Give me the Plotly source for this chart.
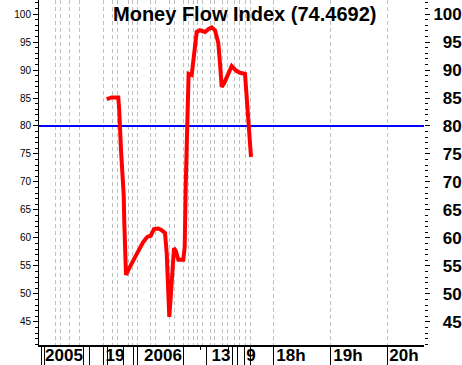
import plotly.graph_objects as go

# ---- data (x = position along the time axis, y = MFI value) ----
mfi_x = [106.7, 111.7, 118.3, 119.3, 121.0, 122.3, 123.7, 124.3, 125.3, 126.0,
         130.0, 136.7, 143.3, 147.3, 150.7, 154.0, 158.3, 161.7, 165.0, 166.7,
         167.7, 169.3, 171.0, 172.7, 174.0, 176.0, 178.3, 183.3, 184.7, 185.7,
         186.7, 187.3, 188.0, 188.6, 191.7, 193.3, 196.7, 200.0, 205.0, 208.3,
         211.7, 215.0, 218.3, 220.0, 221.7, 224.0, 227.3, 231.7, 236.0, 240.0,
         245.0, 246.7, 248.3, 250.0, 251.0]
mfi_y = [84.8, 85.1, 85.1, 82.6, 75.7, 72.1, 67.7, 62.7, 59.1, 53.4,
         54.9, 57.3, 59.3, 60.2, 60.4, 61.6, 61.7, 61.4, 60.9, 57.3,
         52.5, 45.9, 50.2, 54.9, 58.2, 57.6, 56.1, 56.1, 58.4, 69.2,
         76.3, 82.9, 88.2, 89.3, 89.1, 91.8, 96.8, 97.1, 96.8, 97.3,
         97.6, 97.1, 94.8, 91.2, 87.0, 87.6, 89.1, 90.7, 89.9, 89.5,
         89.3, 84.6, 80.5, 76.3, 74.4692]

threshold = 80
last_value = 74.4692

grid_x = [55.3, 60.3, 69.3, 79.3, 103.3, 112.3, 117.3, 128.3, 132.8, 137.3,
          150.5, 155.5, 169, 174, 183, 188, 193, 197, 202, 210, 214, 222,
          227, 234, 239, 245, 250, 273, 330, 387]
tick_x = [41, 44, 83, 89, 103, 107, 123, 133, 137, 183, 206, 232, 237, 244, 250,
          273, 330, 387]
short_tick_x = [200, 228]
label_x = [64, 115, 163, 221, 251, 291, 348, 404]
label_text = ["2005", "19", "2006", "13", "9", "18h", "19h", "20h"]

y_ticks = [45, 50, 55, 60, 65, 70, 75, 80, 85, 90, 95, 100]
x_range = [39, 424]
y_range = [40.89, 102.5]

FS = "\u2007"  # figure space for right-aligned right labels
right_text = [(FS + str(v)) if v < 100 else str(v) for v in y_ticks]

fig = go.Figure()
fig.add_trace(go.Scatter(x=x_range, y=[threshold, threshold], mode="lines",
                         line=dict(color="#0000ff", width=2), hoverinfo="skip",
                         showlegend=False))
fig.add_trace(go.Scatter(x=mfi_x, y=mfi_y, mode="lines",
                         line=dict(color="#ff0000", width=4), showlegend=False))
# invisible helper traces so the overlay axes are drawn
fig.add_trace(go.Scatter(x=[x_range[0]], y=[y_range[0]], yaxis="y2", mode="markers",
                         marker=dict(opacity=0), hoverinfo="skip", showlegend=False))
fig.add_trace(go.Scatter(x=[x_range[0]], y=[y_range[0]], xaxis="x2", mode="markers",
                         marker=dict(opacity=0), hoverinfo="skip", showlegend=False))

bold = dict(family="Liberation Sans", size=17, color="black", weight="bold")

fig.update_layout(
    width=462, height=365,
    margin=dict(l=39, r=38, t=0, b=20),
    paper_bgcolor="white", plot_bgcolor="white",
    xaxis=dict(range=x_range, showgrid=False, zeroline=False, automargin=False,
               showline=True, linecolor="black", linewidth=2,
               tickmode="array", tickvals=label_x, ticktext=label_text,
               ticks="", ticklen=0, ticklabelstandoff=-6, tickfont=bold,
               minor=dict(tickmode="array", tickvals=grid_x, showgrid=True,
                          gridcolor="#c0c0c0", griddash="4px,3px", gridwidth=1,
                          ticks="")),
    xaxis2=dict(range=x_range, overlaying="x", anchor="y", side="bottom",
                automargin=False,
                showgrid=False, zeroline=False, showticklabels=False,
                tickmode="array", tickvals=tick_x, ticks="outside", ticklen=20,
                tickcolor="black", tickwidth=1,
                minor=dict(tickmode="array", tickvals=short_tick_x, ticks="outside",
                           ticklen=4, tickcolor="black", tickwidth=1)),
    yaxis=dict(range=y_range, showgrid=False, zeroline=False, automargin=False,
               showline=True, linecolor="black", linewidth=1,
               tickmode="array", tickvals=y_ticks, ticks="outside", ticklen=5,
               tickcolor="black", tickwidth=1,
               tickfont=dict(family="Liberation Sans", size=10, color="black"),
               minor=dict(dtick=1, tick0=0, ticks="outside", ticklen=3,
                          tickcolor="black", tickwidth=1)),
    yaxis2=dict(range=y_range, overlaying="y", side="right", anchor="x",
                automargin=False,
                showgrid=False, zeroline=False, showline=False,
                tickmode="array", tickvals=y_ticks, ticktext=right_text,
                ticks="outside", ticklen=5, tickcolor="black", tickwidth=1,
                tickfont=bold,
                minor=dict(dtick=1, tick0=0, ticks="outside", ticklen=3,
                           tickcolor="black", tickwidth=1)),
    annotations=[dict(text=f"Money Flow Index ({last_value})", xref="paper", yref="paper",
                      x=0.535, y=0.959, xanchor="center", yanchor="middle",
                      showarrow=False,
                      font=dict(family="Liberation Sans", size=20, color="black",
                                weight="bold"))],
)

fig.write_html("out.html")
